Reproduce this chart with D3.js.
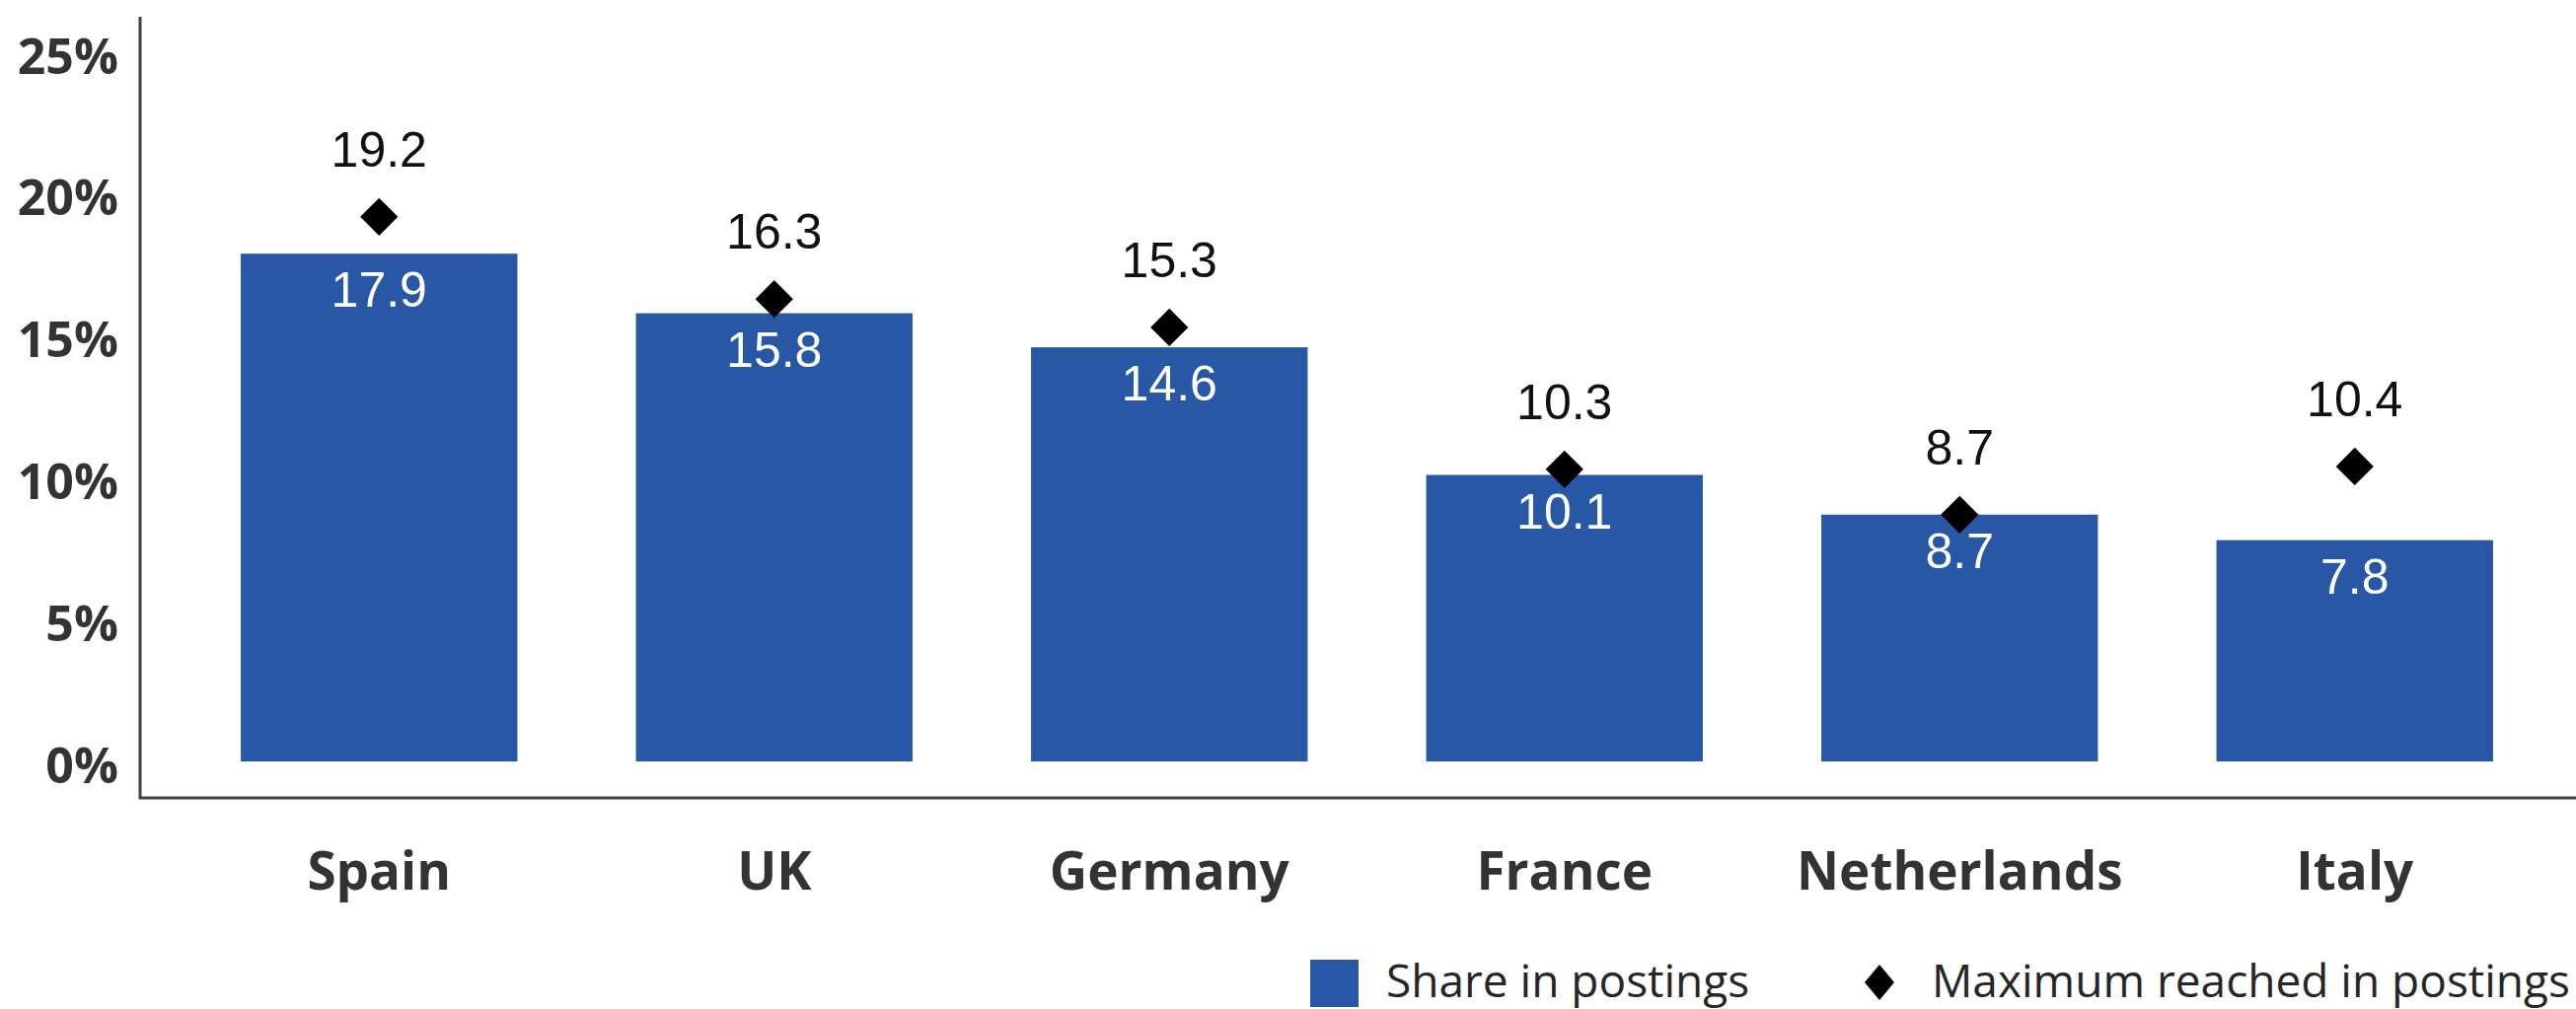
<!DOCTYPE html>
<html>
<head>
<meta charset="utf-8">
<script src="https://cdn.jsdelivr.net/npm/d3@7"></script>
<style>
  html, body { margin: 0; padding: 0; background: #ffffff; }
  svg { display: block; }
</style>
</head>
<body>
<div id="chart"></div>
<script>
const categories = ["Spain", "UK", "Germany", "France", "Netherlands", "Italy"];
const shareValues = [17.9, 15.8, 14.6, 10.1, 8.7, 7.8];
const maxValues = [19.2, 16.3, 15.3, 10.3, 8.7, 10.4];
const yTicks = [0, 5, 10, 15, 20, 25];
const legendLabels = ["Share in postings", "Maximum reached in postings"];

const W = 2611, H = 1023;
const barColor = "#2757a5";
const axisColor = "#404040";
const textColor = "#333333";

const svg = d3.select("#chart").append("svg")
  .attr("width", W).attr("height", H)
  .attr("viewBox", `0 0 ${W} ${H}`);

const x = d3.scaleBand()
  .domain(categories)
  .range([184, 2587])
  .paddingInner(0.3)
  .paddingOuter(0.15);

const y = d3.scaleLinear().domain([0, 25]).range([772, 53]);

const data = categories.map((c, i) => ({ cat: c, share: shareValues[i], max: maxValues[i] }));

// Bars
svg.append("g").selectAll("rect").data(data).join("rect")
  .attr("x", d => x(d.cat))
  .attr("y", d => y(d.share))
  .attr("width", x.bandwidth())
  .attr("height", d => y(0) - y(d.share))
  .attr("fill", barColor);

// Share labels inside bars
svg.append("g").selectAll("text").data(data).join("text")
  .attr("x", d => x(d.cat) + x.bandwidth() / 2)
  .attr("y", d => y(d.share) + 54)
  .attr("text-anchor", "middle")
  .attr("font-family", "'Liberation Sans', Arial, sans-serif")
  .attr("font-size", 50)
  .attr("fill", "#ffffff")
  .text(d => d.share.toFixed(1));

// Diamonds for max
const diamond = d3.symbol().type(d3.symbolSquare).size(730);
svg.append("g").selectAll("path").data(data).join("path")
  .attr("d", diamond)
  .attr("transform", d => `translate(${x(d.cat) + x.bandwidth() / 2},${y(d.max)}) rotate(45)`)
  .attr("fill", "#000000");

// Max labels
svg.append("g").selectAll("text").data(data).join("text")
  .attr("x", d => x(d.cat) + x.bandwidth() / 2)
  .attr("y", d => y(d.max) - 51)
  .attr("text-anchor", "middle")
  .attr("font-family", "'Liberation Sans', Arial, sans-serif")
  .attr("font-size", 50)
  .attr("fill", "#111111")
  .text(d => d.max.toFixed(1));

// Y axis
const yAxis = svg.append("g")
  .attr("transform", "translate(142,0)")
  .call(d3.axisLeft(y).tickValues(yTicks).tickFormat(d => d + "%").tickSize(0).tickPadding(22));
yAxis.select(".domain").remove();
yAxis.selectAll("text")
  .attr("dy", "0.42em")
  .attr("font-family", "'Open Sans', sans-serif")
  .attr("font-weight", 700)
  .attr("font-size", 50)
  .attr("fill", textColor);

// X axis labels
const xAxis = svg.append("g")
  .attr("transform", "translate(0,809)")
  .call(d3.axisBottom(x).tickSize(0).tickPadding(55));
xAxis.select(".domain").remove();
xAxis.selectAll("text")
  .attr("font-family", "'Open Sans', sans-serif")
  .attr("font-weight", 700)
  .attr("font-size", 53)
  .attr("fill", textColor);

// Axis lines
svg.append("line")
  .attr("x1", 142).attr("x2", 142).attr("y1", 17).attr("y2", 810)
  .attr("stroke", axisColor).attr("stroke-width", 3);
svg.append("line")
  .attr("x1", 141).attr("x2", W).attr("y1", 809).attr("y2", 809)
  .attr("stroke", axisColor).attr("stroke-width", 3);

// Legend
const legend = svg.append("g");
legend.append("rect")
  .attr("x", 1328).attr("y", 973).attr("width", 49).attr("height", 48)
  .attr("fill", barColor);
legend.append("text")
  .attr("x", 1405).attr("y", 1011)
  .attr("font-family", "'Open Sans', sans-serif")
  .attr("font-size", 46)
  .attr("fill", "#262626")
  .text(legendLabels[0]);
legend.append("path")
  .attr("d", "M0,-18L15,0L0,18L-15,0Z")
  .attr("transform", "translate(1905,996)")
  .attr("fill", "#000000");
legend.append("text")
  .attr("x", 1958).attr("y", 1011)
  .attr("font-family", "'Open Sans', sans-serif")
  .attr("font-size", 46)
  .attr("fill", "#262626")
  .text(legendLabels[1]);
</script>
</body>
</html>
